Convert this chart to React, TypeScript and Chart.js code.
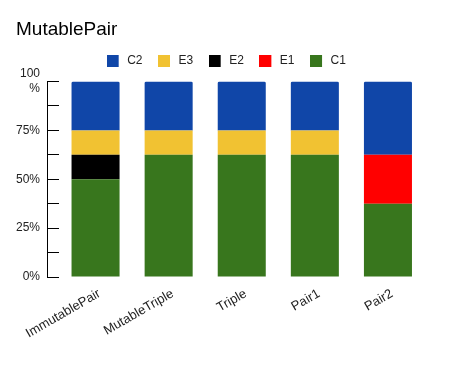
import React, { useEffect, useRef } from "react";
import { Chart, registerables } from "chart.js";

Chart.register(...registerables);

const categories = ["ImmutablePair", "MutableTriple", "Triple", "Pair1", "Pair2"];
const c1Values = [50, 62.5, 62.5, 62.5, 37.5];
const e1Values = [0, 0, 0, 0, 25];
const e2Values = [12.5, 0, 0, 0, 0];
const e3Values = [12.5, 12.5, 12.5, 12.5, 0];
const c2Values = [25, 25, 25, 25, 37.5];
const yTicks = [0, 12.5, 25, 37.5, 50, 62.5, 75, 87.5, 100];

const FONT = "'Liberation Sans', Arial, sans-serif";

const axisLinePlugin = {
  id: "axisLine",
  afterDraw(chart: any) {
    const ys = chart.scales.y;
    const ctx = chart.ctx;
    const x = Math.round(chart.chartArea.left - 12) + 0.5;
    ctx.save();
    ctx.strokeStyle = "#000";
    ctx.lineWidth = 1;
    ctx.beginPath();
    ctx.moveTo(x, Math.round(ys.getPixelForValue(100)));
    ctx.lineTo(x, Math.round(ys.getPixelForValue(0)) + 1);
    ctx.stroke();
    ctx.restore();
  },
};

function swatch(color: string) {
  const c = document.createElement("canvas");
  c.width = 14;
  c.height = 12;
  const g = c.getContext("2d")!;
  g.fillStyle = color;
  g.fillRect(0, 0, 12, 12);
  return c;
}

export default function App() {
  const ref = useRef<HTMLCanvasElement | null>(null);
  useEffect(() => {
    if (!ref.current) return;
    const mk = (label: string, data: number[], color: string, top = false) => ({
      label,
      data,
      backgroundColor: color,
      borderWidth: 0,
      borderRadius: top ? { topLeft: 1.5, topRight: 1.5, bottomLeft: 0, bottomRight: 0 } : 0,
      borderSkipped: false as any,
      barPercentage: 0.657,
      categoryPercentage: 1,
    });
    const chart = new Chart(ref.current, {
      type: "bar",
      data: {
        labels: categories,
        datasets: [
          mk("C1", c1Values, "#38761d"),
          mk("E1", e1Values, "#ff0000"),
          mk("E2", e2Values, "#000000"),
          mk("E3", e3Values, "#f1c232"),
          mk("C2", c2Values, "#1046a8", true),
        ],
      },
      plugins: [axisLinePlugin],
      options: {
        animation: false,
        responsive: true,
        maintainAspectRatio: false,
        layout: { padding: { left: 8, right: 8, top: 0, bottom: 0 } },
        plugins: {
          title: {
            display: true,
            text: "MutablePair",
            align: "start",
            color: "#000",
            font: { family: FONT, size: 19, weight: "normal", lineHeight: 1 },
            padding: { top: 12.5, bottom: 0 },
          },
          legend: {
            reverse: true,
            labels: {
              usePointStyle: true,
              pointStyleWidth: 15,
              boxHeight: 12,
              padding: 15,
              color: "#222",
              font: { family: FONT, size: 12 },
              generateLabels(chart: any) {
                const items = Chart.defaults.plugins.legend.labels.generateLabels(chart);
                return items.map((it: any) => ({
                  ...it,
                  pointStyle: swatch(it.fillStyle as string),
                }));
              },
            },
          },
          tooltip: { enabled: false },
        },
        scales: {
          x: {
            stacked: true,
            grid: { display: false },
            border: { display: false },
            ticks: {
              color: "#222",
              font: { family: FONT, size: 13 },
              minRotation: 30,
              maxRotation: 30,
              padding: 1,
              labelOffset: 4,
            },
            afterFit(scale: any) {
              scale.height = 86;
              scale.paddingRight = 19.5;
            },
          },
          gap: {
            type: "category",
            position: "top",
            display: true,
            grid: { display: false },
            border: { display: false },
            ticks: { display: false },
            afterFit(scale: any) {
              scale.height = 5;
            },
          },
          y: {
            stacked: true,
            min: 0,
            max: 100,
            afterBuildTicks(scale: any) {
              scale.ticks = yTicks.map((v) => ({ value: v }));
            },
            ticks: {
              autoSkip: false,
              color: "#222",
              font: { family: FONT, size: 12, lineHeight: 1.25 },
              padding: 7,
              callback: (v: any) => {
                const n = Number(v);
                if (n % 25 !== 0) return "";
                if (n === 100) return ["100", "%"];
                return n + "%";
              },
            },
            grid: {
              drawOnChartArea: false,
              drawTicks: true,
              tickLength: 12,
              color: "#000",
            },
            border: { display: false },
            afterFit(scale: any) {
              scale.width = 43;
            },
          },
        },
      },
    });
    return () => chart.destroy();
  }, []);
  return (
    <div style={{ width: 436, height: 355, position: "relative" }}>
      <canvas ref={ref} />
    </div>
  );
}
